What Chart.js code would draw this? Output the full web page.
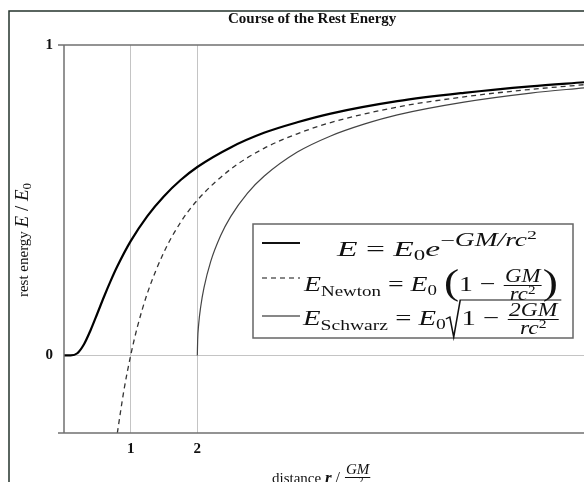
<!DOCTYPE html>
<html>
<head>
<meta charset="utf-8">
<script src="https://cdn.jsdelivr.net/npm/chart.js@4/dist/chart.umd.min.js"></script>
<style>
  html, body { margin: 0; padding: 0; background: #fff; overflow: hidden; }
  #wrap { width: 584px; height: 482px; }
</style>
</head>
<body>
<div id="wrap"><canvas id="c" width="584" height="482"></canvas></div>
<script>
// tick values
const xTicks = [1, 2];
const yTicks = [0, 1];

// E = E0 exp(-GM/rc^2)
const rExp = [0, 0.1, 0.2, 0.3, 0.4, 0.5, 0.6, 0.7, 0.8, 1.0, 1.25, 1.5, 1.75, 2.0, 2.5, 3.0, 3.5, 4.0, 5.0, 6.0, 7.0, 7.8];
const eExp = [0, 0.0, 0.007, 0.036, 0.082, 0.135, 0.189, 0.240, 0.287, 0.368, 0.449, 0.513, 0.565, 0.607, 0.670, 0.717, 0.751, 0.779, 0.819, 0.846, 0.867, 0.880];

// Newton (dashed)
const rNewton = [0.8, 0.9, 1.0, 1.1, 1.25, 1.5, 1.75, 2.0, 2.5, 3.0, 3.5, 4.0, 5.0, 6.0, 7.0, 7.8];
const eNewton = [-0.25, -0.111, 0, 0.091, 0.2, 0.333, 0.429, 0.5, 0.6, 0.667, 0.714, 0.75, 0.8, 0.833, 0.857, 0.872];

// Schwarzschild (thin solid)
const rSchwarz = [2.0, 2.005, 2.02, 2.05, 2.1, 2.2, 2.35, 2.5, 2.75, 3.0, 3.5, 4.0, 4.5, 5.0, 6.0, 7.0, 7.8];
const eSchwarz = [0, 0.050, 0.100, 0.156, 0.218, 0.302, 0.386, 0.447, 0.522, 0.577, 0.655, 0.707, 0.745, 0.775, 0.816, 0.845, 0.862];

const SERIF = '"Liberation Serif", "Times New Roman", serif';
const pts = (xs, ys) => xs.map((x, i) => ({ x: x, y: ys[i] }));

// --- small text layout helpers for the math labels ---
function fracWidth(ctx, r) {
  ctx.font = r.f;
  const nw = ctx.measureText(r.num).width;
  let dw = ctx.measureText(r.den).width;
  if (r.sup) { ctx.font = r.sf; dw += ctx.measureText(r.sup).width; }
  return { nw, dw, w: Math.max(nw, dw) + 4 };
}

function runWidth(ctx, runs) {
  let w = 0;
  runs.forEach(r => {
    if (r.frac) w += fracWidth(ctx, r).w;
    else if (r.sqrt) w += 12 + runWidth(ctx, r.inner);
    else { ctx.font = r.f; w += ctx.measureText(r.t).width; }
  });
  return w;
}

function drawRuns(ctx, x, y, runs) {
  runs.forEach(r => {
    if (r.frac) {
      const m = fracWidth(ctx, r);
      const ax = y - (r.axis || 5);
      ctx.font = r.f;
      ctx.fillText(r.num, x + (m.w - m.nw) / 2, ax - 3);
      const dx = x + (m.w - m.dw) / 2;
      ctx.fillText(r.den, dx, ax + r.dd);
      if (r.sup) {
        const tw = ctx.measureText(r.den).width;
        ctx.font = r.sf;
        ctx.fillText(r.sup, dx + tw, ax + r.dd - 6);
      }
      ctx.lineWidth = 1;
      ctx.beginPath();
      ctx.moveTo(x + 1, ax + 0.5);
      ctx.lineTo(x + m.w - 1, ax + 0.5);
      ctx.stroke();
      x += m.w;
    } else if (r.sqrt) {
      const iw = runWidth(ctx, r.inner);
      ctx.lineWidth = 1.2;
      ctx.beginPath();
      ctx.moveTo(x, y - 6);
      ctx.lineTo(x + 3, y - 8);
      ctx.lineTo(x + 6, y + r.bot);
      ctx.lineTo(x + 11, y - r.top);
      ctx.lineTo(x + 13 + iw, y - r.top);
      ctx.stroke();
      x = drawRuns(ctx, x + 12, y, r.inner);
    } else {
      ctx.font = r.f;
      ctx.fillText(r.t, x, y + (r.dy || 0));
      x += ctx.measureText(r.t).width;
    }
  });
  return x;
}

// draw runs squeezed/stretched horizontally to a given width
function drawFit(ctx, x, y, runs, target) {
  const w = runWidth(ctx, runs);
  ctx.save();
  ctx.translate(x, y);
  ctx.scale(target / w, 1);
  drawRuns(ctx, 0, 0, runs);
  ctx.restore();
}

const decorations = {
  id: 'decorations',
  afterDraw(chart) {
    const ctx = chart.ctx;
    const a = chart.chartArea;
    ctx.save();
    ctx.textBaseline = 'alphabetic';
    ctx.textAlign = 'left';

    // outer frame
    ctx.strokeStyle = '#24332d';
    ctx.lineWidth = 1.5;
    ctx.beginPath();
    ctx.moveTo(9, 482);
    ctx.lineTo(9, 11);
    ctx.lineTo(584, 11);
    ctx.stroke();

    // plot frame
    ctx.strokeStyle = '#707070';
    ctx.lineWidth = 1.5;
    ctx.beginPath();
    ctx.moveTo(a.left - 6, a.top);
    ctx.lineTo(a.right, a.top);
    ctx.moveTo(a.left, a.top);
    ctx.lineTo(a.left, a.bottom);
    ctx.moveTo(a.left - 6, a.bottom);
    ctx.lineTo(a.right, a.bottom);
    ctx.stroke();

    ctx.fillStyle = '#111';
    ctx.strokeStyle = '#111';

    // title
    ctx.font = 'bold 15px ' + SERIF;
    ctx.fillText('Course of the Rest Energy', 228, 23);

    // y axis title
    const yRuns = [
      { t: 'rest energy ', f: '15px ' + SERIF },
      { t: 'E', f: 'italic 19px ' + SERIF },
      { t: ' / ', f: '19px ' + SERIF },
      { t: 'E', f: 'italic 19px ' + SERIF },
      { t: '0', f: '13px ' + SERIF, dy: 3 }
    ];
    ctx.save();
    ctx.translate(28, 240);
    ctx.rotate(-Math.PI / 2);
    drawRuns(ctx, -runWidth(ctx, yRuns) / 2, 0, yRuns);
    ctx.restore();

    // x axis title (cut by the window bottom)
    drawRuns(ctx, 272, 483, [
      { t: 'distance ', f: '15px ' + SERIF },
      { t: 'r', f: 'italic bold 17px ' + SERIF },
      { t: ' / ', f: '16px ' + SERIF },
      { frac: true, num: 'GM', den: 'c', sup: '2', f: 'italic 15px ' + SERIF, sf: '10px ' + SERIF, dd: 13, axis: 6 }
    ]);

    // legend box
    const bx = 253, by = 224, bw = 320, bh = 114;
    ctx.fillStyle = '#fff';
    ctx.fillRect(bx, by, bw, bh);
    ctx.strokeStyle = '#666';
    ctx.lineWidth = 1.5;
    ctx.strokeRect(bx, by, bw, bh);
    ctx.fillStyle = '#111';
    ctx.strokeStyle = '#111';

    const big = 'italic 22px ' + SERIF;
    const rom = '22px ' + SERIF;
    const sub = '15px ' + SERIF;
    const fr = 'italic 18px ' + SERIF;
    const frs = '12px ' + SERIF;

    // sample lines
    ctx.lineWidth = 2.2;
    ctx.beginPath(); ctx.moveTo(262, 243); ctx.lineTo(300, 243); ctx.stroke();
    ctx.lineWidth = 1.1;
    ctx.setLineDash([5, 4]);
    ctx.beginPath(); ctx.moveTo(262, 278); ctx.lineTo(300, 278); ctx.stroke();
    ctx.setLineDash([]);
    ctx.lineWidth = 1.1;
    ctx.beginPath(); ctx.moveTo(262, 316); ctx.lineTo(300, 316); ctx.stroke();

    drawFit(ctx, 337, 256, [
      { t: 'E', f: big }, { t: ' = ', f: rom }, { t: 'E', f: big }, { t: '0', f: sub, dy: 4 },
      { t: 'e', f: big }, { t: '\u2212', f: '17px ' + SERIF, dy: -10 },
      { t: 'GM/rc', f: 'italic 18px ' + SERIF, dy: -10 }, { t: '2', f: '13px ' + SERIF, dy: -17 }
    ], 200);
    drawFit(ctx, 304, 291, [
      { t: 'E', f: big }, { t: 'Newton', f: sub, dy: 5 }, { t: ' = ', f: rom }, { t: 'E', f: big },
      { t: '0', f: sub, dy: 4 }, { t: ' ', f: rom }, { t: '(', f: '36px ' + SERIF, dy: 3 },
      { t: '1 \u2212 ', f: rom },
      { frac: true, num: 'GM', den: 'rc', sup: '2', f: fr, sf: frs, dd: 15, axis: 6 },
      { t: ')', f: '36px ' + SERIF, dy: 3 }
    ], 254);
    drawFit(ctx, 303, 325, [
      { t: 'E', f: big }, { t: 'Schwarz', f: sub, dy: 5 }, { t: ' = ', f: rom }, { t: 'E', f: big },
      { t: '0', f: sub, dy: 4 },
      { sqrt: true, top: 25, bot: 12, inner: [
        { t: '1 \u2212 ', f: rom },
        { frac: true, num: '2GM', den: 'rc', sup: '2', f: fr, sf: frs, dd: 15, axis: 6 }
      ] }
    ], 257);

    ctx.restore();
  }
};

new Chart(document.getElementById('c').getContext('2d'), {
  type: 'line',
  data: {
    datasets: [
      { label: 'exp', data: pts(rExp, eExp), borderColor: '#000', borderWidth: 2.2,
        pointRadius: 0, fill: false, cubicInterpolationMode: 'monotone' },
      { label: 'Newton', data: pts(rNewton, eNewton), borderColor: '#333', borderWidth: 1.3,
        borderDash: [5, 4], pointRadius: 0, fill: false, cubicInterpolationMode: 'monotone' },
      { label: 'Schwarz', data: pts(rSchwarz, eSchwarz), borderColor: '#444', borderWidth: 1.2,
        pointRadius: 0, fill: false, cubicInterpolationMode: 'monotone' }
    ]
  },
  options: {
    responsive: false,
    animation: false,
    layout: { padding: { left: 0, top: 45, right: 0, bottom: 0 } },
    plugins: { legend: { display: false }, tooltip: { enabled: false }, title: { display: false } },
    scales: {
      x: {
        type: 'linear', min: 0, max: 7.8,
        afterBuildTicks: s => { s.ticks = xTicks.map(v => ({ value: v })); },
        afterFit: s => { s.height = 49; },
        grid: { color: '#c4c4c4', lineWidth: 1, drawTicks: false },
        border: { display: false },
        ticks: { color: '#111', padding: 7, font: { family: SERIF, size: 15, weight: 'bold' } }
      },
      y: {
        type: 'linear', min: -0.25, max: 1,
        afterBuildTicks: s => { s.ticks = yTicks.map(v => ({ value: v })); },
        afterFit: s => { s.width = 64; },
        grid: { color: c => c.tick && c.tick.value === 0 ? '#c4c4c4' : 'rgba(0,0,0,0)', lineWidth: 1, drawTicks: false },
        border: { display: false },
        ticks: { color: '#111', padding: 11, font: { family: SERIF, size: 15, weight: 'bold' } }
      }
    }
  },
  plugins: [decorations]
});
</script>
</body>
</html>
